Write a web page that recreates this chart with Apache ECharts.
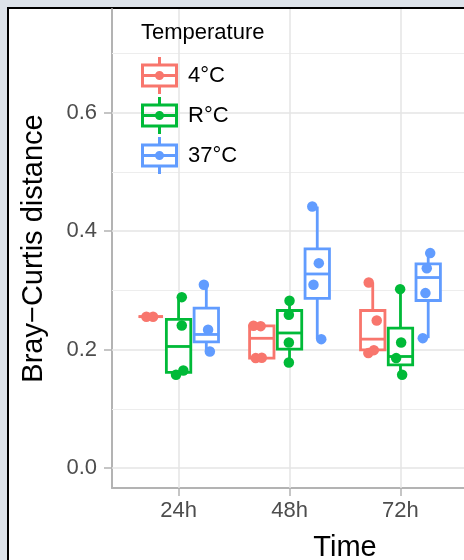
<!DOCTYPE html>
<html><head><meta charset="utf-8">
<script src="https://cdn.jsdelivr.net/npm/echarts@6/dist/echarts.min.js"></script>
<style>html,body{margin:0;padding:0;background:#dde3ea;}#c{width:464px;height:560px;}</style>
</head><body><div id="c"></div>
<script>
// ---- data ----
const categories = ['24h', '48h', '72h'];
const groups = ['4°C', 'R°C', '37°C'];
const yTickValues = [0, 0.2, 0.4, 0.6];
const yGridValues = [0, 0.1, 0.2, 0.3, 0.4, 0.5, 0.6, 0.7];
// box statistics per time point: [lower whisker, Q1, median, Q3, upper whisker]
const box4C  = [[0.2555, 0.2555, 0.2555, 0.2555, 0.2555], [0.1856, 0.1856, 0.2190, 0.2401, 0.2401], [0.1940, 0.1996, 0.2176, 0.2659, 0.3132]];
const boxRC  = [[0.1574, 0.1615, 0.2052, 0.2510, 0.2885], [0.1782, 0.2008, 0.2280, 0.2659, 0.2823], [0.1574, 0.1743, 0.1883, 0.2362, 0.3020]];
const box37C = [[0.1967, 0.2130, 0.2255, 0.2700, 0.3093], [0.2176, 0.2864, 0.3276, 0.3698, 0.4414], [0.2193, 0.2828, 0.3216, 0.3447, 0.3628]];
// individual samples: [time index, value, horizontal jitter in category units]
const pts4C  = [[0, 0.2555, -0.04], [0, 0.2555, 0.02], [1, 0.2401, -0.075], [1, 0.2395, -0.01], [1, 0.1856, -0.055], [1, 0.1862, 0.0], [2, 0.3132, -0.036], [2, 0.2490, 0.036], [2, 0.1940, -0.04], [2, 0.1990, 0.01]];
const ptsRC  = [[0, 0.2885, 0.029], [0, 0.2406, 0.029], [0, 0.1574, -0.023], [0, 0.1647, 0.043], [1, 0.2823, 0.0], [1, 0.2587, -0.006], [1, 0.2119, -0.006], [1, 0.1782, -0.006], [2, 0.3020, -0.003], [2, 0.2119, 0.006], [2, 0.1856, -0.039], [2, 0.1574, 0.015]];
const pts37C = [[0, 0.3093, -0.022], [0, 0.2333, 0.016], [0, 0.1967, 0.032], [1, 0.4414, -0.045], [1, 0.3459, 0.014], [1, 0.3093, -0.034], [1, 0.2176, 0.036], [2, 0.3628, 0.018], [2, 0.3374, -0.013], [2, 0.2953, -0.025], [2, 0.2193, -0.049]];

// ---- styling / layout ----
const colors = ['#F8766D', '#00BA38', '#619CFF'];
const dodge = [-0.25, 0, 0.25];
const FONT = '"Liberation Sans", Arial, sans-serif';
const LW = 2.8;
const boxData = [box4C, boxRC, box37C];
const ptsData = [pts4C, ptsRC, pts37C];

function boxRender(color, off) {
  return function (params, api) {
    const x = api.value(0) + off;
    const cLo = api.coord([x, api.value(1)]);
    const cQ1 = api.coord([x, api.value(2)]);
    const cMd = api.coord([x, api.value(3)]);
    const cQ3 = api.coord([x, api.value(4)]);
    const cHi = api.coord([x, api.value(5)]);
    const hw = api.size([0.22, 0])[0] / 2;
    const cx = cMd[0];
    const ls = { stroke: color, lineWidth: LW, fill: null };
    return {
      type: 'group',
      children: [
        { type: 'line', shape: { x1: cx, y1: cHi[1], x2: cx, y2: cQ3[1] }, style: ls },
        { type: 'line', shape: { x1: cx, y1: cQ1[1], x2: cx, y2: cLo[1] }, style: ls },
        { type: 'rect', shape: { x: cx - hw, y: cQ3[1], width: 2 * hw, height: cQ1[1] - cQ3[1] }, style: { stroke: color, lineWidth: LW, fill: '#ffffff' } },
        { type: 'line', shape: { x1: cx - hw, y1: cMd[1], x2: cx + hw, y2: cMd[1] }, style: ls }
      ]
    };
  };
}

const series = [];
// grid lines (behind everything)
series.push({
  type: 'scatter', name: '__grid', data: [], z: 1, silent: true,
  markLine: {
    silent: true, symbol: 'none', label: { show: false },
    data: yGridValues.map(v => ({ yAxis: v, lineStyle: { color: (Math.round(v * 10) % 2 === 0) ? '#e4e4e4' : '#ededed', width: (Math.round(v * 10) % 2 === 0) ? 1.5 : 1.2, type: 'solid' } }))
      .concat(categories.concat(['']).map((c, i) => ({ xAxis: i + 1, lineStyle: { color: '#e4e4e4', width: 1.5, type: 'solid' } })))
  }
});
groups.forEach((g, gi) => {
  series.push({
    type: 'custom', name: g, z: 5,
    itemStyle: { color: colors[gi] },
    renderItem: boxRender(colors[gi], dodge[gi]),
    encode: { x: 0, y: [1, 2, 3, 4, 5] },
    data: boxData[gi].map((s, i) => [i + 1].concat(s))
  });
});
groups.forEach((g, gi) => {
  series.push({
    type: 'scatter', name: g, z: 6, symbolSize: 10.5,
    itemStyle: { color: colors[gi], opacity: 1 },
    data: ptsData[gi].map(p => [p[0] + 1 + dodge[gi] + p[2], p[1]])
  });
});

// legend key glyph: small boxplot with whiskers, median and dot
const iconPath = 'path://M17 0H20V8H17Z M0 6.5H37V30.5H0Z M3 9.5V27.5H34V9.5Z M0 17H37V20H0Z M17 29H20V37H17Z M23 18.5A4.5 4.5 0 1 1 14 18.5A4.5 4.5 0 1 1 23 18.5Z';

const chart = echarts.init(document.getElementById('c'), null, { renderer: 'canvas' });
chart.setOption({
  backgroundColor: '#dde3ea',
  animation: false,
  graphic: [
    { type: 'rect', z: -10, shape: { x: 8, y: 8, width: 600, height: 700 }, style: { fill: '#ffffff', stroke: '#000000', lineWidth: 2 } },
    { type: 'rect', z: 2, shape: { x: 123, y: 10, width: 164, height: 185 }, style: { fill: '#ffffff' } },
    { type: 'text', z: 12, x: 141, y: 33, style: { text: 'Temperature', font: '22px ' + FONT, fill: '#000000', verticalAlign: 'middle' } }
  ],
  legend: {
    data: groups, orient: 'vertical', left: 141, top: 57, padding: 0,
    itemWidth: 37, itemHeight: 37, itemGap: 3, icon: iconPath, selectedMode: false, z: 10,
    itemStyle: { borderWidth: 0 },
    textStyle: { fontSize: 22, color: '#000000', fontFamily: FONT, padding: [0, 0, 0, 5] }
  },
  grid: { left: 112, top: 9, width: 466, height: 479, containLabel: false, outerBoundsMode: 'none' },
  xAxis: {
    type: 'value', min: 0.4, max: 4.6, z: 3,
    name: 'Time', nameLocation: 'middle', nameGap: 45,
    nameTextStyle: { fontSize: 29, color: '#000000', fontFamily: FONT },
    axisLine: { show: true, onZero: false, lineStyle: { color: '#b3b3b3', width: 2 } },
    axisTick: { show: true, length: 8, customValues: categories.map((c, i) => i + 1), lineStyle: { color: '#b3b3b3', width: 1.5 } },
    axisLabel: { show: true, margin: 12, fontSize: 22, color: '#4d4d4d', fontFamily: FONT, customValues: categories.map((c, i) => i + 1), formatter: v => categories[Math.round(v) - 1] || '' },
    splitLine: { show: false }
  },
  yAxis: {
    type: 'value', min: -0.0337, max: 0.7749, z: 3,
    name: 'Bray\u2212Curtis distance', nameLocation: 'middle', nameGap: 64,
    nameTextStyle: { fontSize: 29, color: '#000000', fontFamily: FONT },
    axisLine: { show: true, onZero: false, lineStyle: { color: '#b3b3b3', width: 2 } },
    axisTick: { show: true, length: 8, customValues: yTickValues, lineStyle: { color: '#b3b3b3', width: 1.5 } },
    axisLabel: { show: true, margin: 15, fontSize: 22, color: '#4d4d4d', fontFamily: FONT, customValues: yTickValues, formatter: v => v.toFixed(1) },
    splitLine: { show: false }
  },
  series: series
});
</script></body></html>
